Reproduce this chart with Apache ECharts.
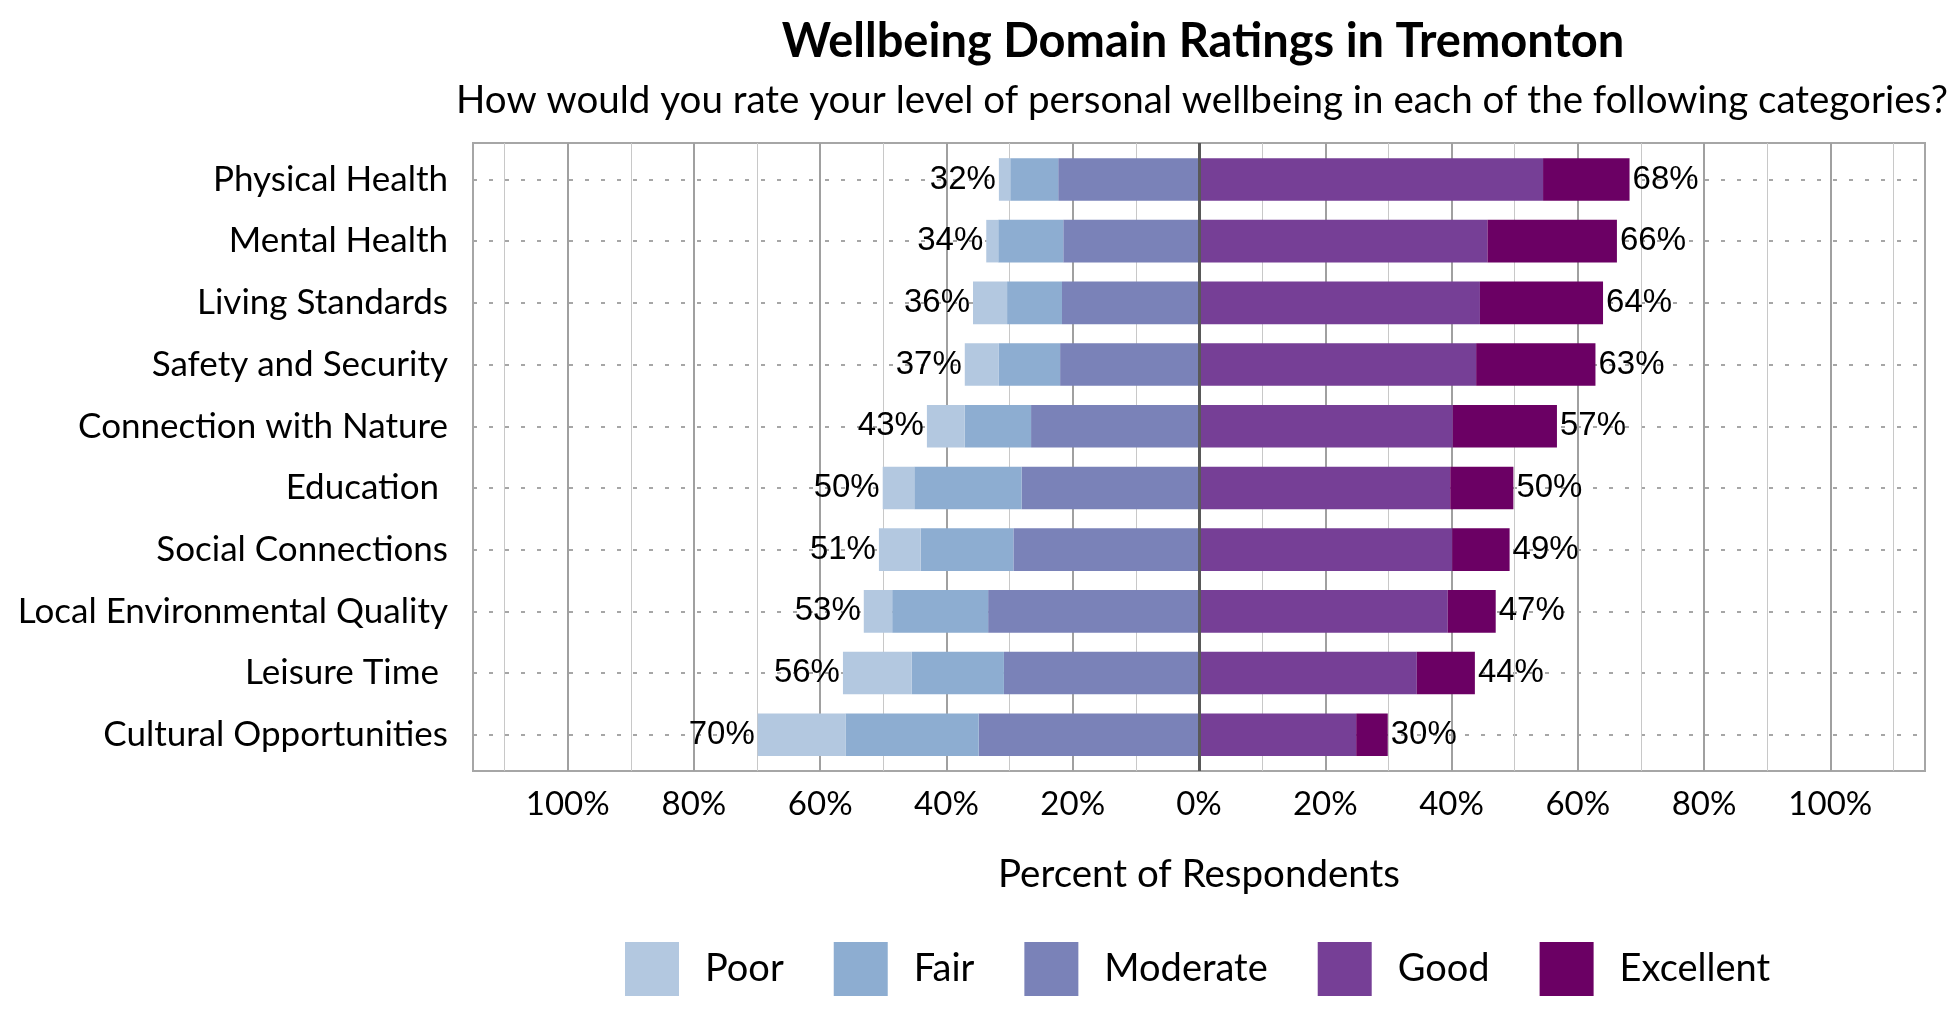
<!DOCTYPE html>
<html>
<head>
<meta charset="utf-8">
<script src="https://cdn.jsdelivr.net/npm/echarts@6/dist/echarts.min.js"></script>
<style>html,body{margin:0;padding:0;background:#fff}#c{width:1950px;height:1020px}</style>
</head>
<body>
<div id="c"></div>
<script>
const categories = ['Physical Health', 'Mental Health', 'Living Standards', 'Safety and Security', 'Connection with Nature', 'Education ', 'Social Connections', 'Local Environmental Quality', 'Leisure Time ', 'Cultural Opportunities'];
const poor      = [1.8, 1.9, 5.4, 5.4, 6.0, 5.0, 6.6, 4.5, 10.9, 13.9];
const fair      = [7.6, 10.3, 8.7, 9.7, 10.5, 17.0, 14.7, 15.2, 14.6, 21.1];
const moderate  = [22.3, 21.5, 21.7, 22.0, 26.6, 28.1, 29.4, 33.4, 30.9, 34.9];
const good      = [54.5, 45.7, 44.5, 43.9, 40.2, 39.8, 40.1, 39.4, 34.5, 24.9];
const excellent = [13.7, 20.5, 19.5, 18.9, 16.5, 10.0, 9.1, 7.6, 9.2, 5.0];
const leftTotals  = [32, 34, 36, 37, 43, 50, 51, 53, 56, 70];
const rightTotals = [68, 66, 64, 63, 57, 50, 49, 47, 44, 30];
const tickLabelValues = [-100, -80, -60, -40, -20, 0, 20, 40, 60, 80, 100];

const colors = { Poor: '#b3c8e0', Fair: '#8dadd1', Moderate: '#7a82b8', Good: '#763f96', Excellent: '#6b0064' };
const FONT = 'Lato';
const LABEL_FONT = 'Liberation Sans';

const chart = echarts.init(document.getElementById('c'));
const axisRange = { min: -115, max: 115 };

function barSeries(name, vals, sign, extra) {
  return Object.assign({
    name: name,
    type: 'bar',
    stack: 'total',
    xAxisIndex: 3,
    yAxisIndex: 1,
    barCategoryGap: '31%',
    itemStyle: { color: colors[name] },
    data: vals.map(v => sign * v)
  }, extra || {});
}

const option = {
  animation: false,
  backgroundColor: '#ffffff',
  textStyle: { fontFamily: FONT },
  title: [
    { text: 'Wellbeing Domain Ratings in Tremonton', left: 1198, top: 13, textAlign: 'center',
      textStyle: { fontFamily: FONT, fontWeight: 'bold', fontSize: 47, color: '#000' } },
    { text: 'How would you rate your level of personal wellbeing in each of the following categories?', left: 1197, top: 76, textAlign: 'center',
      textStyle: { fontFamily: FONT, fontWeight: 'normal', fontSize: 38.5, color: '#000' } }
  ],
  legend: {
    data: ['Poor', 'Fair', 'Moderate', 'Good', 'Excellent'],
    left: 620, top: 937,
    itemWidth: 54, itemHeight: 54, itemGap: 50,
    icon: 'rect',
    textStyle: { fontFamily: FONT, fontSize: 38, color: '#000', padding: [0, 0, 0, 21] }
  },
  grid: [
    { left: 473, right: 25, top: 143, bottom: 249, show: true, borderColor: '#a6a6a6', borderWidth: 2, containLabel: false },
    { left: 473, right: 25, top: 148.6, bottom: 254.4, containLabel: false }
  ],
  xAxis: [
    { gridIndex: 0, type: 'value', min: axisRange.min, max: axisRange.max, interval: 5,
      axisLine: { show: false }, axisTick: { show: false },
      axisLabel: { fontFamily: FONT, fontSize: 33, color: '#000', margin: 17,
        formatter: v => tickLabelValues.indexOf(Math.round(v)) >= 0 ? Math.abs(Math.round(v)) + '%' : '' },
      splitLine: { show: true, showMinLine: true, showMaxLine: true,
        lineStyle: { color: ['rgba(0,0,0,0)', 'rgba(0,0,0,0)', 'rgba(0,0,0,0)', '#a0a0a0'], width: 2 } },
      name: 'Percent of Respondents', nameLocation: 'middle', nameGap: 84,
      nameTextStyle: { fontFamily: FONT, fontSize: 38.5, color: '#000' }
    },
    { gridIndex: 0, type: 'value', min: axisRange.min, max: axisRange.max, interval: 5,
      axisLine: { show: false }, axisTick: { show: false }, axisLabel: { show: false },
      splitLine: { show: true, showMinLine: true, showMaxLine: true,
        lineStyle: { color: ['rgba(0,0,0,0)', '#c8c8c8', 'rgba(0,0,0,0)', 'rgba(0,0,0,0)'], width: 1 } }
    },
    { gridIndex: 0, type: 'value', min: axisRange.min, max: axisRange.max, interval: 115, z: 5,
      axisLine: { show: false }, axisTick: { show: false }, axisLabel: { show: false },
      splitLine: { show: true, showMinLine: false, showMaxLine: false,
        lineStyle: { color: '#595959', width: 3 } }
    },
    { gridIndex: 1, type: 'value', min: axisRange.min, max: axisRange.max, show: false, splitLine: { show: false } }
  ],
  yAxis: [
    { gridIndex: 0, type: 'category', data: categories, show: false },
    { gridIndex: 1, type: 'category', data: categories, inverse: true,
      axisLine: { show: false }, axisTick: { show: false },
      axisLabel: { fontFamily: FONT, fontSize: 35, color: '#000', margin: 25 },
      splitLine: { show: true, alignWithLabel: true,
        lineStyle: { color: '#a6a6a6', width: 2, type: [4, 12] } }
    }
  ],
  series: [
    barSeries('Moderate', moderate, -1),
    barSeries('Fair', fair, -1),
    barSeries('Poor', poor, -1, {
      label: { show: true, position: 'left', distance: 3, fontFamily: LABEL_FONT, fontSize: 33, color: '#000',
        formatter: p => leftTotals[p.dataIndex] + '%' }
    }),
    barSeries('Good', good, 1),
    barSeries('Excellent', excellent, 1, {
      label: { show: true, position: 'right', distance: 3, fontFamily: LABEL_FONT, fontSize: 33, color: '#000',
        formatter: p => rightTotals[p.dataIndex] + '%' }
    })
  ]
};
chart.setOption(option);
</script>
</body>
</html>
